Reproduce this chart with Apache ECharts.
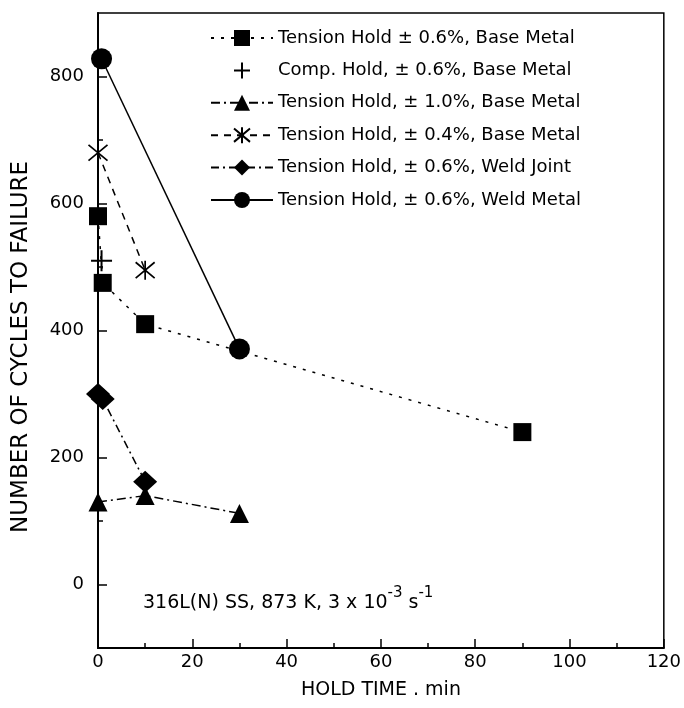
<!DOCTYPE html>
<html>
<head>
<meta charset="utf-8">
<script src="https://cdn.jsdelivr.net/npm/echarts@6/dist/echarts.min.js"></script>
<style>
html,body{margin:0;padding:0;background:#fff;}
#chart{width:684px;height:708px;}
</style>
</head>
<body>
<div id="chart"></div>
<script>
// ---- data ----
const seriesNames = [
  'Tension Hold \u00b1 0.6%, Base Metal',
  'Comp. Hold, \u00b1 0.6%, Base Metal',
  'Tension Hold, \u00b1 1.0%, Base Metal',
  'Tension Hold, \u00b1 0.4%, Base Metal',
  'Tension Hold, \u00b1 0.6%, Weld Joint',
  'Tension Hold, \u00b1 0.6%, Weld Metal'
];
const tensionBase06X = [0, 1, 10, 90];
const tensionBase06Y = [580, 475, 410, 240];
const compBase06X = [0.75];
const compBase06Y = [510];
const tensionBase10X = [0, 10, 30];
const tensionBase10Y = [130, 140, 112];
const tensionBase04X = [0, 10];
const tensionBase04Y = [680, 495];
const weldJointX = [0, 1, 10];
const weldJointY = [300, 292, 162];
const weldMetalX = [0.75, 30];
const weldMetalY = [828, 371];

const xMajorTicks = [0, 20, 40, 60, 80, 100, 120];
const yLabelTicks = [0, 200, 400, 600, 800];
const yMinorTicks = [100, 300, 500, 700];

const xTitle = 'HOLD TIME . min';
const yTitle = 'NUMBER OF CYCLES TO FAILURE';

function pairs(xs, ys) { return xs.map((x, i) => [x, ys[i]]); }

const FONT = '"DejaVu Sans", "Liberation Sans", Arial, sans-serif';
const PLUS = 'path://M5,0L5,10M0,5L10,5';
const STAR = 'path://M0,0L10,10M10,0L0,10M5,-1L5,11';

const chart = echarts.init(document.getElementById('chart'), null, {renderer: 'canvas'});

function lineSeries(name, data, symbol, size, lineStyle, extra) {
  return Object.assign({
    name: name,
    type: 'line',
    data: data,
    symbol: symbol,
    symbolSize: size,
    clip: false,
    animation: false,
    z: 3,
    itemStyle: {color: '#000', borderColor: '#000', borderWidth: 0},
    lineStyle: Object.assign({color: '#000', width: 1.5}, lineStyle)
  }, extra || {});
}

const option = {
  backgroundColor: '#fff',
  animation: false,
  textStyle: {fontFamily: FONT, color: '#000'},
  grid: {left: 98, right: 18, top: 13, bottom: 60, show: true, borderColor: '#000', borderWidth: 1.5, backgroundColor: 'transparent'},
  legend: {
    orient: 'vertical',
    left: 205,
    top: 24,
    itemWidth: 62,
    itemHeight: 20,
    itemGap: 14.4,
    textStyle: {fontFamily: FONT, fontSize: 18, color: '#000'},
    data: seriesNames
  },
  xAxis: {
    type: 'value',
    min: 0, max: 120, interval: 20,
    name: xTitle,
    nameLocation: 'middle',
    nameGap: 33,
    nameTextStyle: {fontFamily: FONT, fontSize: 19, color: '#000'},
    axisLine: {show: true, onZero: false, lineStyle: {color: '#000', width: 2}},
    axisTick: {show: true, inside: true, length: 9, lineStyle: {color: '#000', width: 1.5}},
    minorTick: {show: true, splitNumber: 2, length: 5, lineStyle: {color: '#000', width: 1.5}},
    axisLabel: {fontFamily: FONT, fontSize: 18, color: '#000', margin: 5},
    splitLine: {show: false}
  },
  yAxis: [{
    type: 'value',
    min: -100, max: 900, interval: 100,
    axisLine: {show: true, onZero: false, lineStyle: {color: '#000', width: 2}},
    axisTick: {show: true, inside: true, length: 9, customValues: yLabelTicks, lineStyle: {color: '#000', width: 1.5}},
    axisLabel: {fontFamily: FONT, fontSize: 18, color: '#000', margin: 14, customValues: yLabelTicks},
    splitLine: {show: false}
  }, {
    type: 'value',
    position: 'left',
    min: -100, max: 900, interval: 100,
    axisLine: {show: false, onZero: false},
    axisTick: {show: true, inside: true, length: 5, customValues: yMinorTicks, lineStyle: {color: '#000', width: 1.5}},
    axisLabel: {show: false},
    splitLine: {show: false}
  }],
  graphic: [{
    type: 'text',
    x: 21, y: 347,
    rotation: Math.PI / 2,
    style: {text: yTitle, font: '23px ' + FONT, fill: '#000', align: 'center', verticalAlign: 'middle'}
  }, {
    type: 'text',
    x: 143, y: 600,
    style: {
      text: '{a|316L(N) SS, 873 K, 3 x 10}{s|-3}{a| s}{s|-1}',
      fill: '#000',
      align: 'left',
      verticalAlign: 'middle',
      rich: {
        a: {fontFamily: FONT, fontSize: 19, color: '#000', lineHeight: 30, verticalAlign: 'bottom', padding: [0, 0, 2, 0]},
        s: {fontFamily: FONT, fontSize: 15, color: '#000', lineHeight: 30, verticalAlign: 'top', padding: [1, 0, 0, 0]}
      }
    }
  }],
  series: [
    lineSeries(seriesNames[0], pairs(tensionBase06X, tensionBase06Y), 'rect', 18, {type: [3, 7]}),
    lineSeries(seriesNames[1], pairs(compBase06X, compBase06Y), PLUS, 21, {width: 0},
      {itemStyle: {color: '#000', borderColor: '#000', borderWidth: 2}}),
    lineSeries(seriesNames[2], pairs(tensionBase10X, tensionBase10Y), 'triangle', 19, {type: [9, 4, 2, 4]}),
    lineSeries(seriesNames[3], pairs(tensionBase04X, tensionBase04Y), STAR, 19, {type: [7, 6]},
      {itemStyle: {color: '#000', borderColor: '#000', borderWidth: 1.7}}),
    lineSeries(seriesNames[4], pairs(weldJointX, weldJointY), 'diamond', [24, 22], {type: [8, 4, 2, 4]}),
    lineSeries(seriesNames[5], pairs(weldMetalX, weldMetalY), 'circle', 21, {type: 'solid'})
  ]
};

chart.setOption(option);
</script>
</body>
</html>
